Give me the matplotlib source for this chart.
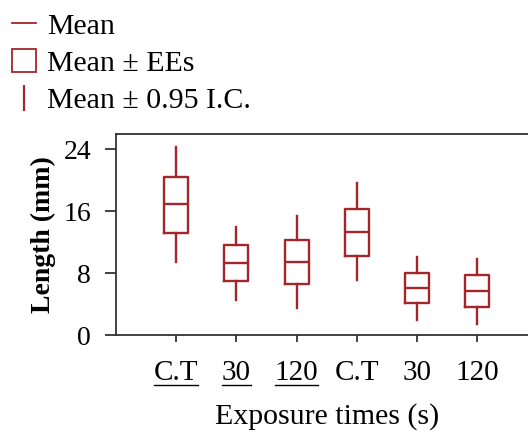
#%% Import modules

import matplotlib.pyplot as plt
from matplotlib.lines import Line2D
from matplotlib.patches import Rectangle

#%% Data

labels = ["C.T", "30", "120", "C.T", "30", "120"]
underlined = [True, True, True, False, False, False]
mean = [16.95, 9.38, 9.47, 13.36, 6.05, 5.66]
ee_low = [13.27, 7.05, 6.57, 10.29, 4.15, 3.63]
ee_high = [20.5, 11.63, 12.28, 16.34, 8.0, 7.74]
ci_low = [9.51, 4.58, 3.50, 7.09, 1.99, 1.47]
ci_high = [24.3, 14.05, 15.39, 19.67, 10.12, 9.86]

#%% Plot

red = "#a3262a"
plt.rcParams["font.family"] = ["Liberation Serif", "DejaVu Serif"]

fig = plt.figure(figsize=(5.28, 4.33), dpi=100)
ax = fig.add_axes([0.2197, 0.2256, 0.798, 0.4649])

stats = []
for i in range(len(labels)):
    stats.append({"med": mean[i], "q1": ee_low[i], "q3": ee_high[i],
                  "whislo": ci_low[i], "whishi": ci_high[i], "label": labels[i]})

lp = dict(color=red, linewidth=1.7)
ax.bxp(stats, positions=range(1, len(labels) + 1), widths=0.4, showcaps=False,
       showfliers=False, boxprops=lp, whiskerprops=lp, medianprops=lp)

ax.set_xlim(0, 7)
ax.set_ylim(0, 26)
ax.set_yticks([0, 8, 16, 24])
ax.set_xticks(range(1, len(labels) + 1))
ax.set_xticklabels(labels)
ax.tick_params(axis="x", labelsize=21, pad=13, length=5, width=1.3, color="#333333")
ax.tick_params(axis="y", labelsize=20, pad=10, length=8, width=1.3, color="#333333")
for s in ax.spines.values():
    s.set_color("#333333")
    s.set_linewidth(1.3)

ax.set_xlabel("Exposure times (s)", fontsize=21.5, labelpad=12)
ax.set_ylabel("Length (mm)", fontsize=20, fontweight="bold", labelpad=5)

# legend
handles = [Line2D([], [], color=red, linewidth=1.3),
           Rectangle((0, 0), 1, 1, facecolor="none", edgecolor=red, linewidth=1.3),
           Line2D([], [], color=red, marker="|", linestyle="none", markersize=19,
                  markeredgewidth=1.6)]
fig.legend(handles, ["Mean", "Mean \u00b1 EEs", "Mean \u00b1 0.95 I.C."],
           loc="upper left", bbox_to_anchor=(0.0, 1.0), frameon=False,
           fontsize=21.5, handlelength=0.8, handleheight=0.8, handletextpad=0.37,
           labelspacing=0.32, borderaxespad=0.0)

# underline the first group of tick labels
fig.canvas.draw()
for t, u in zip(ax.get_xticklabels(), underlined):
    if u:
        bb = t.get_window_extent()
        y = bb.y0 + 1
        fig.add_artist(Line2D([bb.x0 / fig.bbox.width, bb.x1 / fig.bbox.width],
                              [y / fig.bbox.height, y / fig.bbox.height],
                              color="black", linewidth=1.0))

fig.savefig("out.png", dpi=100)
